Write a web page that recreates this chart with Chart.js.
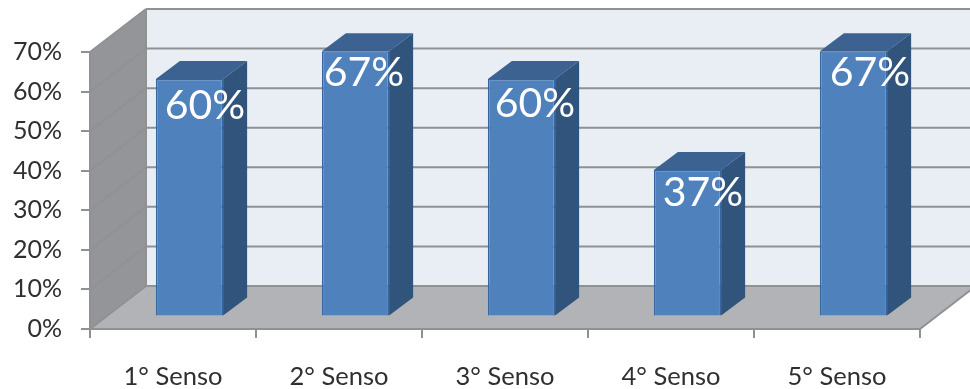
<!DOCTYPE html>
<html>
<head>
<meta charset="utf-8">
<title>Senso</title>
<script src="https://cdn.jsdelivr.net/npm/chart.js@4"></script>
<style>
    html, body { margin: 0; padding: 0; background: #fff; }
    canvas { display: block; }
</style>
</head>
<body>
<canvas id="sensoChart" width="970" height="389"></canvas>
<script>
let categories = ['1° Senso', '2° Senso', '3° Senso', '4° Senso', '5° Senso'];
let percentages = [60, 67, 60, 37, 67];
let tickLabels = ['0%', '10%', '20%', '30%', '40%', '50%', '60%', '70%'];

// depth of the box the chart sits in, and of the bars inside it
let boxDepth = { x: 56, y: -43 };
let barOffset = { x: 16.5, y: -12.5 };
let barDepth = { x: 24, y: -18 };

// value labels don't sit at the same spot on every bar
let labelShiftX = [15.5, 8.5, 13.5, 15.5, 16.5];
let labelShiftY = [27, 21, 25, 23, 21];

function fillPoly(ctx, points, color) {
    ctx.beginPath();
    ctx.moveTo(points[0][0], points[0][1]);
    for (let i = 1; i < points.length; i++) {
        ctx.lineTo(points[i][0], points[i][1]);
    }
    ctx.closePath();
    ctx.fillStyle = color;
    ctx.fill();
}

function strokeLine(ctx, x1, y1, x2, y2) {
    ctx.beginPath();
    ctx.moveTo(x1, y1);
    ctx.lineTo(x2, y2);
    ctx.stroke();
}

// back wall, side wall, floor and the gridlines running over them
let box3d = {
    id: 'box3d',
    beforeDraw(chart) {
        let ctx = chart.ctx;
        let area = chart.chartArea;
        let dx = boxDepth.x, dy = boxDepth.y;
        ctx.save();
        fillPoly(ctx, [[area.left + dx, area.top + dy], [area.right + dx, area.top + dy],
            [area.right + dx, area.bottom + dy], [area.left + dx, area.bottom + dy]], '#e9edf4');
        fillPoly(ctx, [[area.left, area.top], [area.left + dx, area.top + dy],
            [area.left + dx, area.bottom + dy], [area.left, area.bottom]], '#939598');
        fillPoly(ctx, [[area.left, area.bottom], [area.right, area.bottom],
            [area.right + dx, area.bottom + dy], [area.left + dx, area.bottom + dy]], '#b1b3b6');

        ctx.strokeStyle = '#8f9193';
        ctx.lineWidth = 2;
        chart.scales.y.ticks.forEach(function(tick) {
            let y = chart.scales.y.getPixelForValue(tick.value);
            strokeLine(ctx, area.left, y, area.left + dx, y + dy);
            strokeLine(ctx, area.left + dx, y + dy, area.right + dx, y + dy);
        });
        strokeLine(ctx, area.left + dx, area.top + dy, area.left + dx, area.bottom + dy);
        strokeLine(ctx, area.right, area.bottom, area.right + dx, area.bottom + dy);
        ctx.restore();
    },
    // top and side faces of each bar go under the front face
    beforeDatasetDraw(chart, args) {
        let ctx = chart.ctx;
        let bars = chart.getDatasetMeta(args.index).data;
        ctx.save();
        ctx.translate(barOffset.x, barOffset.y);
        bars.forEach(function(bar) {
            let left = bar.x - bar.width / 2;
            let right = bar.x + bar.width / 2;
            fillPoly(ctx, [[left, bar.y], [right, bar.y],
                [right + barDepth.x, bar.y + barDepth.y], [left + barDepth.x, bar.y + barDepth.y]], '#3b6291');
            fillPoly(ctx, [[right, bar.y], [right + barDepth.x, bar.y + barDepth.y],
                [right + barDepth.x, bar.base + barDepth.y], [right, bar.base]], '#31547d');
        });
    },
    afterDatasetDraw(chart) {
        chart.ctx.restore();
    },
    afterDatasetsDraw(chart) {
        let ctx = chart.ctx;
        let bars = chart.getDatasetMeta(0).data;
        ctx.save();
        ctx.fillStyle = '#ffffff';
        ctx.font = '41px Lato';
        ctx.textAlign = 'center';
        ctx.textBaseline = 'middle';
        bars.forEach(function(bar, i) {
            ctx.fillText(percentages[i] + '%', bar.x + barOffset.x + labelShiftX[i], bar.y + barOffset.y + labelShiftY[i]);
        });
        ctx.restore();
    }
};

let ctx = document.getElementById('sensoChart').getContext('2d');
let chart = new Chart(ctx, {
    type: 'bar',
    data: {
        labels: categories,
        datasets: [{
            label: 'Senso',
            data: percentages,
            backgroundColor: '#4f81bd',
            borderColor: '#37659e',
            borderWidth: 1.5,
            barPercentage: 0.405,
            categoryPercentage: 1,
            clip: false
        }]
    },
    options: {
        responsive: false,
        animation: false,
        layout: { padding: { top: 52, right: 50 } },
        plugins: {
            legend: { display: false },
            title: { display: false },
            tooltip: { enabled: false }
        },
        scales: {
            x: {
                offset: true,
                afterFit(scale) { scale.height = 60; },
                grid: { drawOnChartArea: false, color: '#8f9193', lineWidth: 2, tickLength: 9 },
                border: { color: '#8f9193', width: 2 },
                ticks: {
                    color: '#303030',
                    font: { family: 'Lato', size: 25.5 },
                    padding: 23,
                    maxRotation: 0,
                    autoSkip: false
                }
            },
            y: {
                min: 0,
                max: 70,
                afterFit(scale) { scale.width = 90; },
                grid: { drawOnChartArea: false, color: '#8f9193', lineWidth: 2, tickLength: 9 },
                border: { color: '#8f9193', width: 2 },
                ticks: {
                    stepSize: 10,
                    color: '#303030',
                    font: { family: 'Lato', size: 25 },
                    padding: 19,
                    callback: function(value) { return tickLabels[value / 10]; }
                }
            }
        }
    },
    plugins: [box3d]
});
</script>
</body>
</html>
